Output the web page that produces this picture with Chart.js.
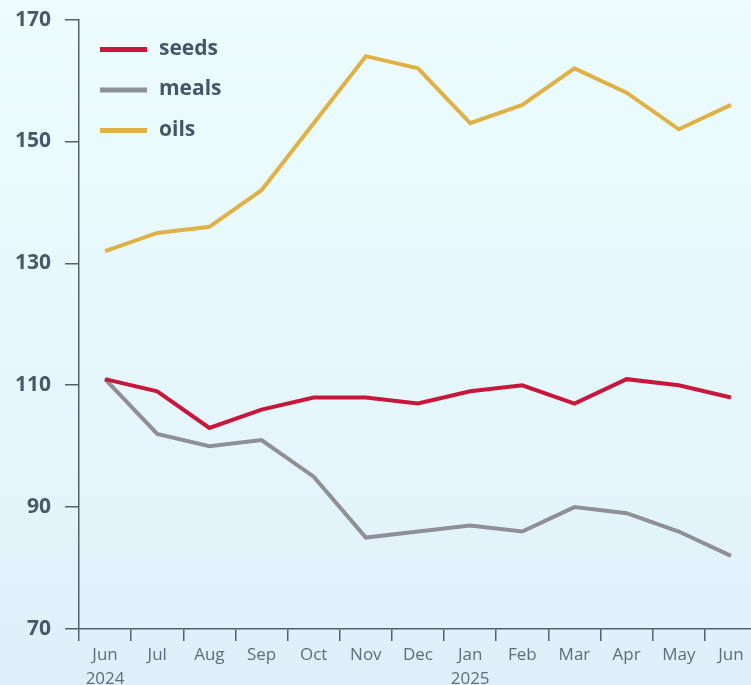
<!DOCTYPE html>
<html>
<head>
<meta charset="utf-8">
<script src="https://cdn.jsdelivr.net/npm/chart.js@4.4.1/dist/chart.umd.min.js"></script>
<style>
  html, body { margin: 0; padding: 0; overflow: hidden; }
  body { width: 751px; height: 685px; background: linear-gradient(180deg, #edfdfe 0%, #e6f7fc 55%, #dfeff9 100%); }
  #wrap { width: 751px; height: 685px; overflow: hidden; }
  #box { width: 760px; height: 692px; margin-top: -7px; position: relative; }
</style>
</head>
<body>
<div id="wrap"><div id="box"><canvas id="chart"></canvas></div></div>
<script>
const months = [['Jun', '2024'], 'Jul', 'Aug', 'Sep', 'Oct', 'Nov', 'Dec', ['Jan', '2025'], 'Feb', 'Mar', 'Apr', 'May', 'Jun'];
const seeds = [111, 109, 103, 106, 108, 108, 107, 109, 110, 107, 111, 110, 108];
const meals = [111, 102, 100, 101, 95, 85, 86, 87, 86, 90, 89, 86, 82];
const oils = [132, 135, 136, 142, 153, 164, 162, 153, 156, 162, 158, 152, 156];
const yTicks = [70, 90, 110, 130, 150, 170];

const axisColor = '#56606a';

// legend drawn inside the plot, top-left
const innerLegend = {
  id: 'innerLegend',
  afterDraw(chart) {
    const ctx = chart.ctx;
    const x0 = chart.chartArea.left + 21;
    let y = chart.chartArea.top + 30;
    ctx.save();
    chart.data.datasets.forEach(ds => {
      ctx.strokeStyle = ds.borderColor;
      ctx.lineWidth = 5;
      ctx.beginPath();
      ctx.moveTo(x0, y);
      ctx.lineTo(x0 + 47, y);
      ctx.stroke();
      ctx.fillStyle = '#45566b';
      ctx.font = 'bold 21px "Open Sans"';
      ctx.textBaseline = 'middle';
      ctx.fillText(ds.label, x0 + 59, y - 1);
      y += 40.5;
    });
    ctx.restore();
  }
};

new Chart(document.getElementById('chart'), {
  type: 'line',
  data: {
    labels: months,
    datasets: [
      { label: 'seeds', data: seeds, borderColor: '#c8173a' },
      { label: 'meals', data: meals, borderColor: '#8e9096' },
      { label: 'oils', data: oils, borderColor: '#dfb146' }
    ]
  },
  options: {
    responsive: true,
    maintainAspectRatio: false,
    animation: false,
    layout: { padding: { top: 8, right: 3, left: 0, bottom: 0 } },
    elements: {
      line: { borderWidth: 4, tension: 0 },
      point: { radius: 0 }
    },
    plugins: {
      legend: { display: false },
      tooltip: { enabled: false }
    },
    scales: {
      x: {
        offset: true,
        grid: { offset: true, drawOnChartArea: false, tickLength: 12, color: axisColor, lineWidth: 1.5 },
        border: { color: axisColor, width: 1.5 },
        ticks: { color: '#5d6d7d', font: { size: 17, family: '"Open Sans"', lineHeight: 1.4 }, padding: 2, maxRotation: 0, autoSkip: false },
        afterFit(scale) { scale.height = 56; }
      },
      y: {
        min: 70,
        max: 170,
        afterBuildTicks(scale) { scale.ticks = yTicks.map(v => ({ value: v })); },
        grid: { drawOnChartArea: false, tickLength: 14, color: axisColor, lineWidth: 1.5 },
        border: { color: axisColor, width: 1.5 },
        ticks: { color: '#4a5868', font: { size: 21, weight: 'bold', family: '"Open Sans"' }, padding: 14 },
        afterFit(scale) { scale.width = 79; }
      }
    }
  },
  plugins: [innerLegend]
});
</script>
</body>
</html>
